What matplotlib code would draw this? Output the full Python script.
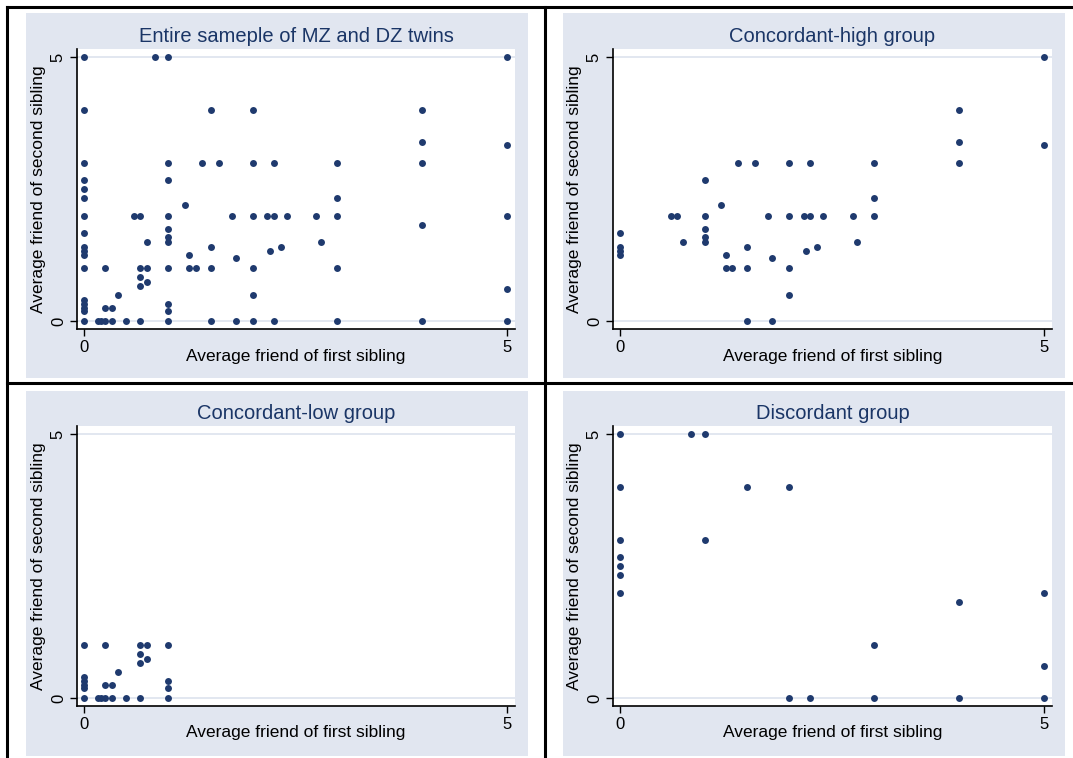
import numpy as np
import matplotlib
matplotlib.use("Agg")
import matplotlib.pyplot as plt
from matplotlib.patches import Rectangle
from matplotlib.lines import Line2D

plt.rcParams['font.family'] = ['Liberation Sans', 'DejaVu Sans']

# Concordant-high group (first sibling, second sibling)
high_x = [0, 0, 0, 0, 0.6, 0.67, 0.75, 1, 1, 1, 1, 1, 1.2, 1.25, 1.25, 1.33,
          1.4, 1.5, 1.5, 1.5, 1.6, 1.75, 1.8, 1.8, 2, 2, 2, 2, 2.17, 2.2,
          2.25, 2.25, 2.33, 2.4, 2.75, 2.8, 3, 3, 3, 4, 4, 4, 5, 5]
high_y = [1.67, 1.4, 1.33, 1.25, 2, 2, 1.5, 2.67, 2, 1.75, 1.6, 1.5, 2.2, 1.25, 1, 1,
          3, 1.4, 1, 0, 3, 2, 1.2, 0, 3, 2, 1, 0.5, 2, 1.33,
          3, 2, 1.4, 2, 2, 1.5, 3, 2.33, 2, 4, 3.4, 3, 5, 3.33]

# Concordant-low group
low_x = [0, 0, 0, 0, 0, 0, 0.17, 0.2, 0.25, 0.25, 0.25, 0.33, 0.33, 0.4, 0.5,
         0.67, 0.67, 0.67, 0.67, 0.75, 0.75, 1, 1, 1, 1]
low_y = [1, 0.4, 0.33, 0.25, 0.2, 0, 0, 0, 0, 1, 0.25, 0.25, 0, 0.5, 0,
         1, 0.83, 0.67, 0, 1, 0.75, 1, 0.33, 0.2, 0]

# Discordant group
disc_x = [0, 0, 0, 0, 0, 0, 0, 0.84, 1, 1, 1.5, 2, 2, 2.25, 3, 3, 4, 4, 5, 5, 5]
disc_y = [5, 4, 3, 2.67, 2.5, 2.33, 2, 5, 5, 3, 4, 4, 0, 0, 1, 0, 1.83, 0, 2, 0.6, 0]

all_x = high_x + low_x + disc_x
all_y = high_y + low_y + disc_y

titles = ["Entire sameple of MZ and DZ twins", "Concordant-high group",
          "Concordant-low group", "Discordant group"]
xlabel = "Average friend of first sibling"
ylabel = "Average friend of second sibling"

W, H = 1073, 758
fig = plt.figure(figsize=(W / 100, H / 100), dpi=100)
fig.patch.set_facecolor('white')

bg = '#e1e6f0'
navy = '#1a3566'
dot = '#1f3a6e'

def px_rect(x0, y0, x1, y1):
    return [x0 / W, 1 - y1 / H, (x1 - x0) / W, (y1 - y0) / H]

# panel backgrounds
for (x0, y0, x1, y1) in [(26, 13, 528, 378), (563, 13, 1065, 378),
                         (26, 391, 528, 756), (563, 391, 1065, 756)]:
    fig.patches.append(Rectangle((x0 / W, 1 - y1 / H), (x1 - x0) / W, (y1 - y0) / H,
                                 transform=fig.transFigure, facecolor=bg,
                                 edgecolor='none', zorder=-5))

# frame lines
frame = [((7, 7), (7, 758)), ((7, 1073), (7, 7)), ((545, 545), (7, 758)),
         ((7, 1073), (383, 383))]
for xs, ys in frame:
    fig.lines.append(Line2D([xs[0] / W, xs[1] / W], [1 - ys[0] / H, 1 - ys[1] / H],
                            transform=fig.transFigure, color='black', lw=2.2))

boxes = [(77, 49, 515, 329), (613, 49, 1052, 329),
         (77, 426, 515, 706), (613, 426, 1052, 706)]
data = [(all_x, all_y), (high_x, high_y), (low_x, low_y), (disc_x, disc_y)]

for (x0, y0, x1, y1), (xs, ys), title in zip(boxes, data, titles):
    ax = fig.add_axes(px_rect(x0, y0, x1, y1))
    ax.set_facecolor('white')
    ax.set_xlim(-0.08, 5.1)
    ax.set_ylim(-0.15, 5.16)
    for y in [0, 5]:
        ax.axhline(y, color='#dde3ee', lw=1.2, zorder=1)
    ax.scatter(xs, ys, s=25, color=dot, zorder=3, linewidths=0)
    ax.spines['top'].set_visible(False)
    ax.spines['right'].set_visible(False)
    ax.spines['left'].set_linewidth(1.2)
    ax.spines['bottom'].set_linewidth(1.2)
    ax.set_xticks([0, 5])
    ax.set_yticks([0, 5])
    ax.tick_params(direction='out', length=5, width=1, labelsize=12, pad=3)
    for lab in ax.get_yticklabels():
        lab.set_rotation(90)
        lab.set_va('center')
    w, h = x1 - x0, y1 - y0
    ax.set_xlabel(xlabel, fontsize=12.5, va='center')
    ax.xaxis.set_label_coords(0.5, -27 / h)
    ax.set_ylabel(ylabel, fontsize=12.5, va='center')
    ax.yaxis.set_label_coords(-38 / w, 0.5)
    ax.set_title(title, fontsize=14.5, color=navy, pad=5)

fig.savefig('out.png', dpi=100)
